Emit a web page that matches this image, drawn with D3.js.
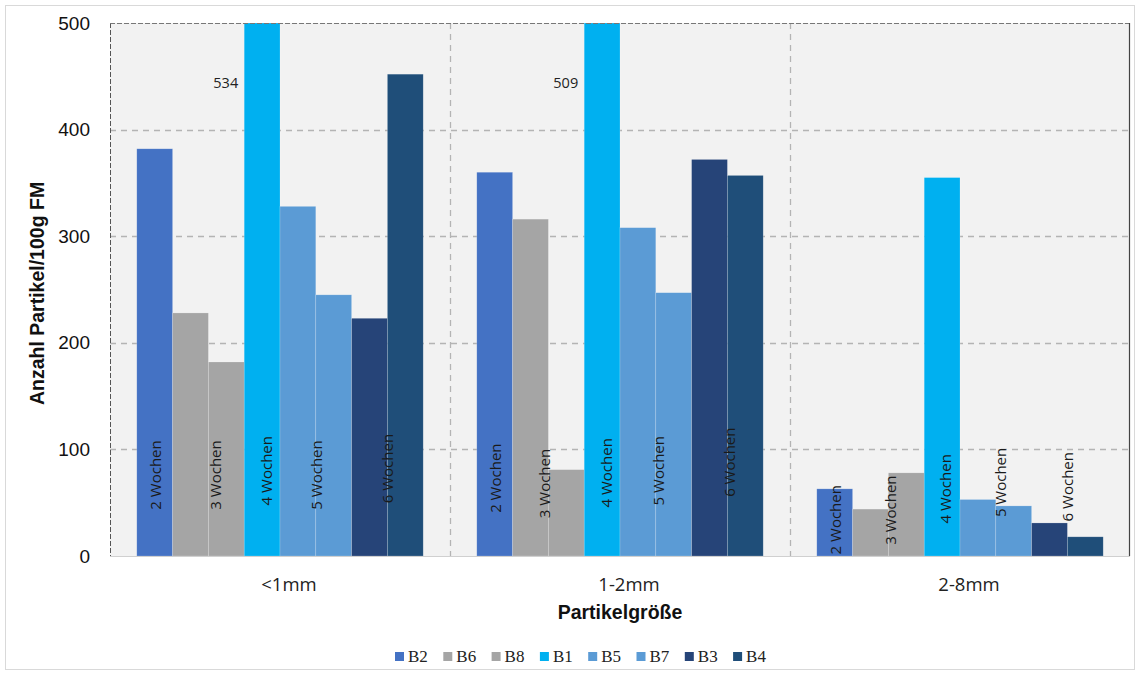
<!DOCTYPE html>
<html>
<head>
<meta charset="utf-8">
<script src="https://cdn.jsdelivr.net/npm/d3@7"></script>
<style>
  html, body { margin: 0; padding: 0; background: #fff; }
  svg { display: block; }
</style>
</head>
<body>
<svg id="chart" width="1137" height="673"></svg>
<script>
// Particle counts per 100 g fresh mass, by particle size class
const categories = ["<1mm", "1-2mm", "2-8mm"];
const seriesNames = ["B2", "B6", "B8", "B1", "B5", "B7", "B3", "B4"];
const valuesB2 = [382, 360, 63];
const valuesB6 = [228, 316, 44];
const valuesB8 = [182, 81, 78];
const valuesB1 = [534, 509, 355];
const valuesB5 = [328, 308, 53];
const valuesB7 = [245, 247, 47];
const valuesB3 = [223, 372, 31];
const valuesB4 = [452, 357, 18];
const yTicks = [0, 100, 200, 300, 400, 500];

// Week annotations: text, category, position across the bar slots, height in axis units
const weekLabels = ["2 Wochen", "3 Wochen", "4 Wochen", "5 Wochen", "6 Wochen"];
const weekSlots = [
  [0.53, 2.21, 3.64, 5.02, 7.0],
  [0.53, 1.89, 3.63, 5.08, 7.06],
  [0.53, 2.06, 3.6, 5.13, 7.0]
];
const weekHeights = [
  [76, 76, 80, 76, 82],
  [73, 68, 78, 80, 88],
  [34, 43, 63, 69, 65]
];

const palette = ["#4472C4", "#A5A5A5", "#A5A5A5", "#00B0F0", "#5B9BD5", "#5B9BD5", "#264478", "#1F4E79"];

const seriesValues = [valuesB2, valuesB6, valuesB8, valuesB1, valuesB5, valuesB7, valuesB3, valuesB4];
const table = categories.map((c, ci) => ({
  category: c,
  bars: seriesNames.map((s, si) => ({ series: s, si, value: seriesValues[si][ci] }))
}));

const svg = d3.select("#chart");
const W = 1137, H = 673;
const plot = { left: 110, top: 23, right: 1130, bottom: 556 };

// outer frame
svg.append("rect")
  .attr("x", 5.5).attr("y", 5.5).attr("width", W - 8).attr("height", H - 9)
  .attr("fill", "#fff").attr("stroke", "#d9d9d9").attr("stroke-width", 1);

const x0 = d3.scaleBand().domain(categories).range([plot.left, plot.right]).padding(0);
const x1 = d3.scaleBand().domain(seriesNames).range([0, x0.bandwidth()])
  .paddingInner(0).paddingOuter((x0.bandwidth() / 35.8 - 8) / 2);
const y = d3.scaleLinear().domain([0, 500]).range([plot.bottom, plot.top]).clamp(true);

// plot background
svg.append("rect")
  .attr("x", plot.left).attr("y", plot.top)
  .attr("width", plot.right - plot.left).attr("height", plot.bottom - plot.top)
  .attr("fill", "#F2F2F2");

// horizontal grid
svg.append("g").selectAll("line")
  .data(yTicks.filter(t => t > 0 && t < 500))
  .join("line")
  .attr("x1", plot.left).attr("x2", plot.right)
  .attr("y1", d => Math.round(y(d)) + 0.5).attr("y2", d => Math.round(y(d)) + 0.5)
  .attr("stroke", "#b4b4b4").attr("stroke-width", 1.3).attr("stroke-dasharray", "6,5");

// vertical separators between size classes
svg.append("g").selectAll("line")
  .data(categories.slice(1))
  .join("line")
  .attr("x1", d => Math.round(x0(d)) + 0.5).attr("x2", d => Math.round(x0(d)) + 0.5)
  .attr("y1", plot.top).attr("y2", plot.bottom)
  .attr("stroke", "#b4b4b4").attr("stroke-width", 1.3).attr("stroke-dasharray", "6,5");

// bars
const groups = svg.append("g").selectAll("g")
  .data(table)
  .join("g")
  .attr("transform", d => `translate(${x0(d.category)},0)`);

groups.selectAll("rect")
  .data(d => d.bars)
  .join("rect")
  .attr("x", d => x1(d.series))
  .attr("width", x1.bandwidth())
  .attr("y", d => y(d.value))
  .attr("height", d => y(0) - y(d.value))
  .attr("fill", d => palette[d.si])
  .attr("stroke", "rgba(255,255,255,0.3)")
  .attr("stroke-width", 0.6);

// value labels for bars that exceed the axis
groups.selectAll("text.over")
  .data(d => d.bars.filter(b => b.value > 500))
  .join("text")
  .attr("class", "over")
  .attr("x", d => x1(d.series) - 6)
  .attr("y", y(444))
  .attr("dy", "0.35em")
  .attr("text-anchor", "end")
  .attr("font-family", "Open Sans, sans-serif")
  .attr("font-size", 14.5)
  .attr("fill", "#222")
  .text(d => d.value);

// week annotations
groups.each(function (d, ci) {
  const g = d3.select(this);
  const step = x1.step();
  const start = x1(seriesNames[0]);
  weekLabels.forEach((t, k) => {
    const cx = start + weekSlots[ci][k] * step;
    const cy = y(weekHeights[ci][k]);
    g.append("text")
      .attr("transform", `translate(${cx},${cy}) rotate(-90)`)
      .attr("text-anchor", "middle")
      .attr("dy", "0.35em")
      .attr("font-family", "Open Sans, sans-serif")
      .attr("font-size", 15)
      .attr("fill", "#1a1a1a")
      .text(t);
  });
});

// plot frame: dark dashed left/top, solid right, light bottom
svg.append("line")
  .attr("x1", plot.left + 0.5).attr("x2", plot.left + 0.5)
  .attr("y1", plot.top).attr("y2", plot.bottom)
  .attr("stroke", "#555").attr("stroke-width", 1).attr("stroke-dasharray", "5,2");
svg.append("line")
  .attr("x1", plot.left).attr("x2", plot.right)
  .attr("y1", plot.top + 0.5).attr("y2", plot.top + 0.5)
  .attr("stroke", "#777").attr("stroke-width", 1.2).attr("stroke-dasharray", "5,2");
svg.append("line")
  .attr("x1", plot.right - 0.5).attr("x2", plot.right - 0.5)
  .attr("y1", plot.top).attr("y2", plot.bottom)
  .attr("stroke", "#444").attr("stroke-width", 1.2);
svg.append("line")
  .attr("x1", plot.left).attr("x2", plot.right)
  .attr("y1", plot.bottom + 0.5).attr("y2", plot.bottom + 0.5)
  .attr("stroke", "#d0d0d0").attr("stroke-width", 1);

// y axis
const yAxis = d3.axisLeft(y).tickValues(yTicks).tickSize(0).tickPadding(20);
const ya = svg.append("g").attr("transform", `translate(${plot.left},0)`).call(yAxis);
ya.select(".domain").remove();
ya.selectAll("text")
  .attr("font-family", "Liberation Sans, Arial, sans-serif")
  .attr("font-size", 19)
  .attr("fill", "#111");

// x axis
const xAxis = d3.axisBottom(x0).tickSize(0).tickPadding(22);
const xa = svg.append("g").attr("transform", `translate(0,${plot.bottom})`).call(xAxis);
xa.select(".domain").remove();
xa.selectAll("text")
  .attr("dx", 9)
  .attr("font-family", "Open Sans, sans-serif")
  .attr("font-size", 18.5)
  .attr("fill", "#222");

// axis titles
svg.append("text")
  .attr("transform", `translate(44,${(plot.top + plot.bottom) / 2 + 4}) rotate(-90)`)
  .attr("text-anchor", "middle")
  .attr("font-family", "Liberation Sans, Arial, sans-serif")
  .attr("font-weight", "bold")
  .attr("font-size", 19.5)
  .attr("fill", "#111")
  .text("Anzahl Partikel/100g FM");

svg.append("text")
  .attr("x", (plot.left + plot.right) / 2)
  .attr("y", 619)
  .attr("text-anchor", "middle")
  .attr("font-family", "Liberation Sans, Arial, sans-serif")
  .attr("font-weight", "bold")
  .attr("font-size", 19.5)
  .attr("fill", "#111")
  .text("Partikelgröße");

// legend
const legendStep = 48.3;
const legendX = 395;
const legend = svg.append("g").selectAll("g")
  .data(seriesNames)
  .join("g")
  .attr("transform", (d, i) => `translate(${legendX + i * legendStep},652)`);
legend.append("rect")
  .attr("width", 9).attr("height", 9)
  .attr("fill", (d, i) => palette[i]);
legend.append("text")
  .attr("x", 13).attr("y", 9.8)
  .attr("font-family", "Liberation Serif, Times New Roman, serif")
  .attr("font-size", 17)
  .attr("fill", "#222")
  .text(d => d);
</script>
</body>
</html>
